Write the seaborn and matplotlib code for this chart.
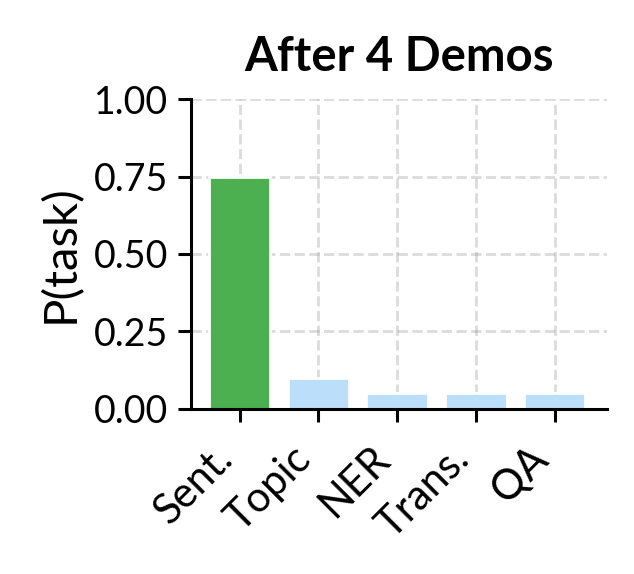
import seaborn as sns
import matplotlib.pyplot as plt
import pandas as pd

# Chart data
tasks = ["Sent.", "Topic", "NER", "Trans.", "QA"]
probs = [0.75, 0.10, 0.05, 0.05, 0.05]
bar_colors = ["#4CAF50", "#BBDEFB", "#BBDEFB", "#BBDEFB", "#BBDEFB"]

sns.set_style("ticks")
plt.rcParams['font.family'] = ['Lato', 'DejaVu Sans']
plt.rcParams['text.color'] = 'black'
plt.rcParams['axes.labelcolor'] = 'black'
plt.rcParams['xtick.color'] = 'black'
plt.rcParams['ytick.color'] = 'black'
plt.rcParams['axes.edgecolor'] = 'black'

df = pd.DataFrame({"task": tasks, "p": probs})

fig = plt.figure(figsize=(3.17, 2.87), dpi=200)
ax = fig.add_axes([0.301, 0.2875, 0.656, 0.54])

sns.barplot(data=df, x="task", y="p", hue="task", palette=bar_colors,
			width=0.78, legend=False, saturation=1, ax=ax, zorder=2)

ax.set_xlim(-0.62, 4.66)
ax.set_ylim(0, 1)
ax.set_yticks([0, 0.25, 0.5, 0.75, 1.0])
ax.set_yticklabels(["0.00", "0.25", "0.50", "0.75", "1.00"], fontsize=13.5)
ax.set_xticks(range(len(tasks)))
ax.set_xticklabels(tasks, rotation=45, ha="right", fontsize=15)
ax.grid(True, linestyle="--", color="gray", alpha=0.28, linewidth=1.0, zorder=0)
ax.set_axisbelow(True)

ax.set_xlabel("")
ax.set_ylabel("P(task)", fontsize=17)
ax.set_title("After 4 Demos", fontsize=17, fontweight="bold", pad=10)

for s in ["left", "bottom"]:
	ax.spines[s].set_linewidth(1.1)
ax.tick_params(width=1.1, length=4.8)
ax.tick_params(axis="x", pad=6)
sns.despine(ax=ax)

fig.savefig("out.png", dpi=200)
